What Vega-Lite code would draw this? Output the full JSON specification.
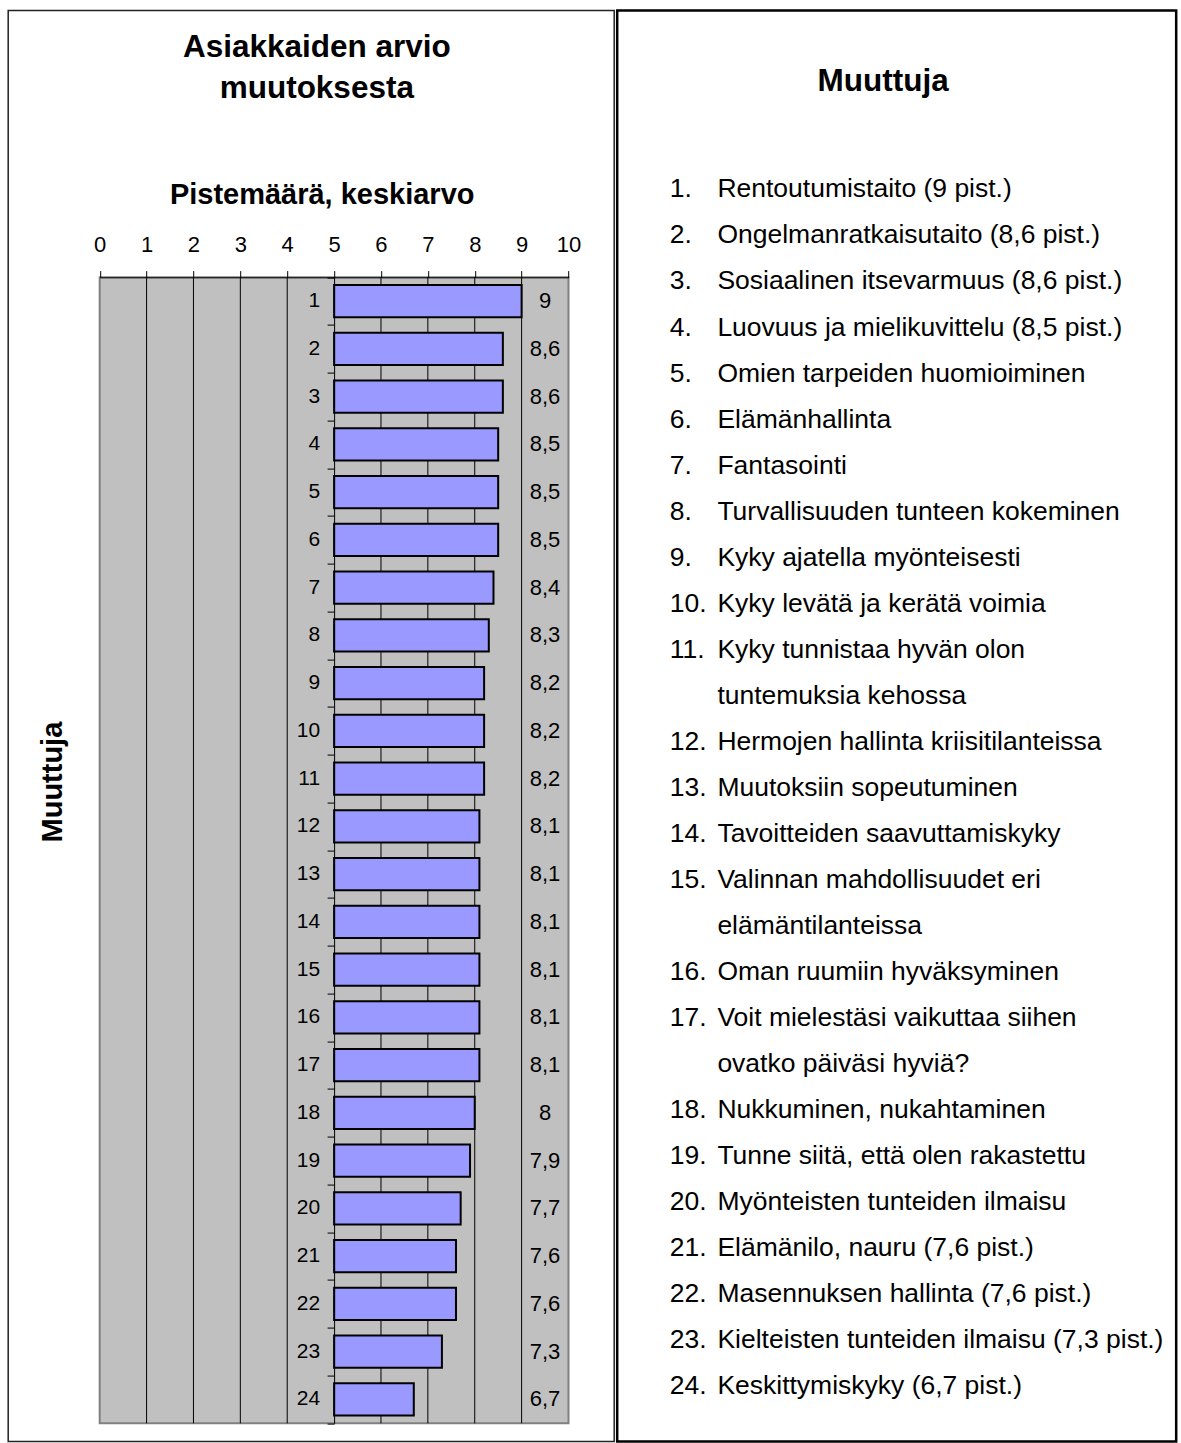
{
  "$schema": "https://vega.github.io/schema/vega-lite/v6.json",
  "padding": {"left": 7.2, "top": 8.6, "right": 0, "bottom": 0},
  "background": "white",
  "spacing": 0,
  "datasets": {
    "bars": [
      {"rank": 1, "value": 9},
      {"rank": 2, "value": 8.6},
      {"rank": 3, "value": 8.6},
      {"rank": 4, "value": 8.5},
      {"rank": 5, "value": 8.5},
      {"rank": 6, "value": 8.5},
      {"rank": 7, "value": 8.4},
      {"rank": 8, "value": 8.3},
      {"rank": 9, "value": 8.2},
      {"rank": 10, "value": 8.2},
      {"rank": 11, "value": 8.2},
      {"rank": 12, "value": 8.1},
      {"rank": 13, "value": 8.1},
      {"rank": 14, "value": 8.1},
      {"rank": 15, "value": 8.1},
      {"rank": 16, "value": 8.1},
      {"rank": 17, "value": 8.1},
      {"rank": 18, "value": 8},
      {"rank": 19, "value": 7.9},
      {"rank": 20, "value": 7.7},
      {"rank": 21, "value": 7.6},
      {"rank": 22, "value": 7.6},
      {"rank": 23, "value": 7.3},
      {"rank": 24, "value": 6.7}
    ],
    "items": [
      {"line": 0, "num": "1.", "text": "Rentoutumistaito (9 pist.)"},
      {"line": 1, "num": "2.", "text": "Ongelmanratkaisutaito (8,6 pist.)"},
      {"line": 2, "num": "3.", "text": "Sosiaalinen itsevarmuus (8,6 pist.)"},
      {"line": 3, "num": "4.", "text": "Luovuus ja mielikuvittelu (8,5 pist.)"},
      {"line": 4, "num": "5.", "text": "Omien tarpeiden huomioiminen"},
      {"line": 5, "num": "6.", "text": "Elämänhallinta"},
      {"line": 6, "num": "7.", "text": "Fantasointi"},
      {"line": 7, "num": "8.", "text": "Turvallisuuden tunteen kokeminen"},
      {"line": 8, "num": "9.", "text": "Kyky ajatella myönteisesti"},
      {"line": 9, "num": "10.", "text": "Kyky levätä ja kerätä voimia"},
      {"line": 10, "num": "11.", "text": "Kyky tunnistaa hyvän olon"},
      {"line": 11, "num": "", "text": "tuntemuksia kehossa"},
      {"line": 12, "num": "12.", "text": "Hermojen hallinta kriisitilanteissa"},
      {"line": 13, "num": "13.", "text": "Muutoksiin sopeutuminen"},
      {"line": 14, "num": "14.", "text": "Tavoitteiden saavuttamiskyky"},
      {"line": 15, "num": "15.", "text": "Valinnan mahdollisuudet eri"},
      {"line": 16, "num": "", "text": "elämäntilanteissa"},
      {"line": 17, "num": "16.", "text": "Oman ruumiin hyväksyminen"},
      {"line": 18, "num": "17.", "text": "Voit mielestäsi vaikuttaa siihen"},
      {"line": 19, "num": "", "text": "ovatko päiväsi hyviä?"},
      {"line": 20, "num": "18.", "text": "Nukkuminen, nukahtaminen"},
      {"line": 21, "num": "19.", "text": "Tunne siitä, että olen rakastettu"},
      {"line": 22, "num": "20.", "text": "Myönteisten tunteiden ilmaisu"},
      {"line": 23, "num": "21.", "text": "Elämänilo, nauru (7,6 pist.)"},
      {"line": 24, "num": "22.", "text": "Masennuksen hallinta (7,6 pist.)"},
      {"line": 25, "num": "23.", "text": "Kielteisten tunteiden ilmaisu (7,3 pist.)"},
      {"line": 26, "num": "24.", "text": "Keskittymiskyky (6,7 pist.)"}
    ]
  },
  "hconcat": [
    {
      "width": 606,
      "height": 1431,
      "view": {"stroke": "#222222", "strokeWidth": 1.5, "fill": "white"},
      "title": {
        "text": ["Asiakkaiden arvio", "muutoksesta"],
        "fontSize": 31.5,
        "fontWeight": "bold",
        "font": "Liberation Sans",
        "color": "black",
        "anchor": "middle",
        "frame": "group",
        "baseline": "alphabetic",
        "lineHeight": 41,
        "offset": -118.6,
        "dx": 5.6
      },
      "data": {"name": "bars"},
      "layer": [
        {
          "data": {"values": [{}]},
          "mark": {"type": "rect", "fill": "#C0C0C0", "stroke": "#808080", "strokeWidth": 2},
          "encoding": {
            "x": {
              "datum": 0,
              "type": "quantitative",
              "scale": {"domain": [0, 10], "range": [91.5, 560.3], "nice": false, "zero": false, "padding": 0},
              "axis": {
                "orient": "top",
                "offset": -266.7,
                "values": [0, 1, 2, 3, 4, 5, 6, 7, 8, 9, 10],
                "format": "d",
                "grid": false,
                "zindex": 1,
                "domainColor": "black",
                "domainWidth": 1,
                "tickColor": "black",
                "tickSize": 6.7,
                "tickWidth": 1,
                "labelFont": "Liberation Sans",
                "labelFontSize": 22,
                "labelColor": "black",
                "labelBaseline": "alphabetic",
                "labelPadding": 19.3,
                "labelFlush": false,
                "title": "Pistemäärä, keskiarvo",
                "titleFont": "Liberation Sans",
                "titleFontSize": 29,
                "titleFontWeight": "bold",
                "titleColor": "black",
                "titleX": 313.5,
                "titleY": -73.5,
                "titleAlign": "center",
                "titleBaseline": "alphabetic",
                "titleAngle": 0
              }
            },
            "x2": {"datum": 10},
            "y": {
              "datum": 0.5,
              "type": "quantitative",
              "scale": {"domain": [0.5, 24.5], "range": [266.7, 1412.7], "nice": false, "zero": false, "padding": 0},
              "axis": {
                "orient": "left",
                "offset": -325.9,
                "values": [0.5, 1.5, 2.5, 3.5, 4.5, 5.5, 6.5, 7.5, 8.5, 9.5, 10.5, 11.5, 12.5, 13.5, 14.5, 15.5, 16.5, 17.5, 18.5, 19.5, 20.5, 21.5, 22.5, 23.5, 24.5],
                "labels": false,
                "grid": false,
                "zindex": 1,
                "domainColor": "black",
                "domainWidth": 1,
                "tickColor": "black",
                "tickSize": 7,
                "tickWidth": 1,
                "title": "Muuttuja",
                "titleFont": "Liberation Sans",
                "titleFontSize": 29,
                "titleFontWeight": "bold",
                "titleColor": "black",
                "titleX": -281.4,
                "titleY": 771,
                "titleAngle": 270,
                "titleAlign": "center",
                "titleBaseline": "middle"
              }
            },
            "y2": {"datum": 24.5}
          }
        },
        {"data": {"values": [{}]}, "mark": {"type": "rule", "color": "black", "strokeWidth": 1}, "encoding": {"x": {"datum": 1}, "y": {"datum": 0.5}, "y2": {"datum": 24.5}}},
        {"data": {"values": [{}]}, "mark": {"type": "rule", "color": "black", "strokeWidth": 1}, "encoding": {"x": {"datum": 2}, "y": {"datum": 0.5}, "y2": {"datum": 24.5}}},
        {"data": {"values": [{}]}, "mark": {"type": "rule", "color": "black", "strokeWidth": 1}, "encoding": {"x": {"datum": 3}, "y": {"datum": 0.5}, "y2": {"datum": 24.5}}},
        {"data": {"values": [{}]}, "mark": {"type": "rule", "color": "black", "strokeWidth": 1}, "encoding": {"x": {"datum": 4}, "y": {"datum": 0.5}, "y2": {"datum": 24.5}}},
        {"data": {"values": [{}]}, "mark": {"type": "rule", "color": "black", "strokeWidth": 1}, "encoding": {"x": {"datum": 6}, "y": {"datum": 0.5}, "y2": {"datum": 24.5}}},
        {"data": {"values": [{}]}, "mark": {"type": "rule", "color": "black", "strokeWidth": 1}, "encoding": {"x": {"datum": 7}, "y": {"datum": 0.5}, "y2": {"datum": 24.5}}},
        {"data": {"values": [{}]}, "mark": {"type": "rule", "color": "black", "strokeWidth": 1}, "encoding": {"x": {"datum": 8}, "y": {"datum": 0.5}, "y2": {"datum": 24.5}}},
        {"data": {"values": [{}]}, "mark": {"type": "rule", "color": "black", "strokeWidth": 1}, "encoding": {"x": {"datum": 9}, "y": {"datum": 0.5}, "y2": {"datum": 24.5}}},
        {
          "mark": {"type": "bar", "orient": "horizontal", "fill": "#9999FF", "stroke": "black", "strokeWidth": 2, "height": 32.3},
          "encoding": {
            "x": {"field": "value", "type": "quantitative"},
            "x2": {"datum": 5},
            "y": {"field": "rank", "type": "quantitative"}
          }
        },
        {
          "mark": {"type": "text", "align": "right", "baseline": "middle", "dx": -14, "fontSize": 21, "font": "Liberation Sans", "color": "black"},
          "encoding": {
            "x": {"datum": 5},
            "y": {"field": "rank", "type": "quantitative"},
            "text": {"field": "rank", "type": "quantitative", "format": "d"}
          }
        },
        {
          "mark": {"type": "text", "align": "center", "baseline": "middle", "fontSize": 22, "font": "Liberation Sans", "color": "black"},
          "encoding": {
            "x": {"datum": 9.5},
            "y": {"field": "rank", "type": "quantitative"},
            "text": {"field": "value", "type": "quantitative", "format": ".1~f"}
          }
        }
      ]
    },
    {
      "width": 559,
      "height": 1431,
      "view": {"stroke": "black", "strokeWidth": 2.5, "fill": "white"},
      "title": {
        "text": "Muuttuja",
        "fontSize": 31.5,
        "fontWeight": "bold",
        "font": "Liberation Sans",
        "color": "black",
        "anchor": "middle",
        "frame": "group",
        "baseline": "alphabetic",
        "offset": -111.4,
        "dx": -13.5
      },
      "data": {"name": "items"},
      "layer": [
        {
          "mark": {"type": "text", "align": "left", "baseline": "alphabetic", "fontSize": 26.5, "font": "Liberation Sans", "color": "black"},
          "encoding": {
            "x": {"datum": 0, "type": "quantitative", "scale": {"domain": [0, 1], "range": [52.6, 100.2], "nice": false, "zero": false, "padding": 0}, "axis": null},
            "y": {"field": "line", "type": "quantitative", "scale": {"domain": [0, 26], "range": [186.8, 1383.8], "nice": false, "zero": false, "padding": 0}, "axis": null},
            "text": {"field": "num", "type": "nominal"}
          }
        },
        {
          "mark": {"type": "text", "align": "left", "baseline": "alphabetic", "fontSize": 26.5, "font": "Liberation Sans", "color": "black"},
          "encoding": {
            "x": {"datum": 1, "type": "quantitative"},
            "y": {"field": "line", "type": "quantitative"},
            "text": {"field": "text", "type": "nominal"}
          }
        }
      ]
    }
  ],
  "config": {
    "font": "Liberation Sans",
    "locale": {"number": {"decimal": ",", "thousands": " ", "grouping": [3], "currency": ["", " €"]}}
  }
}
